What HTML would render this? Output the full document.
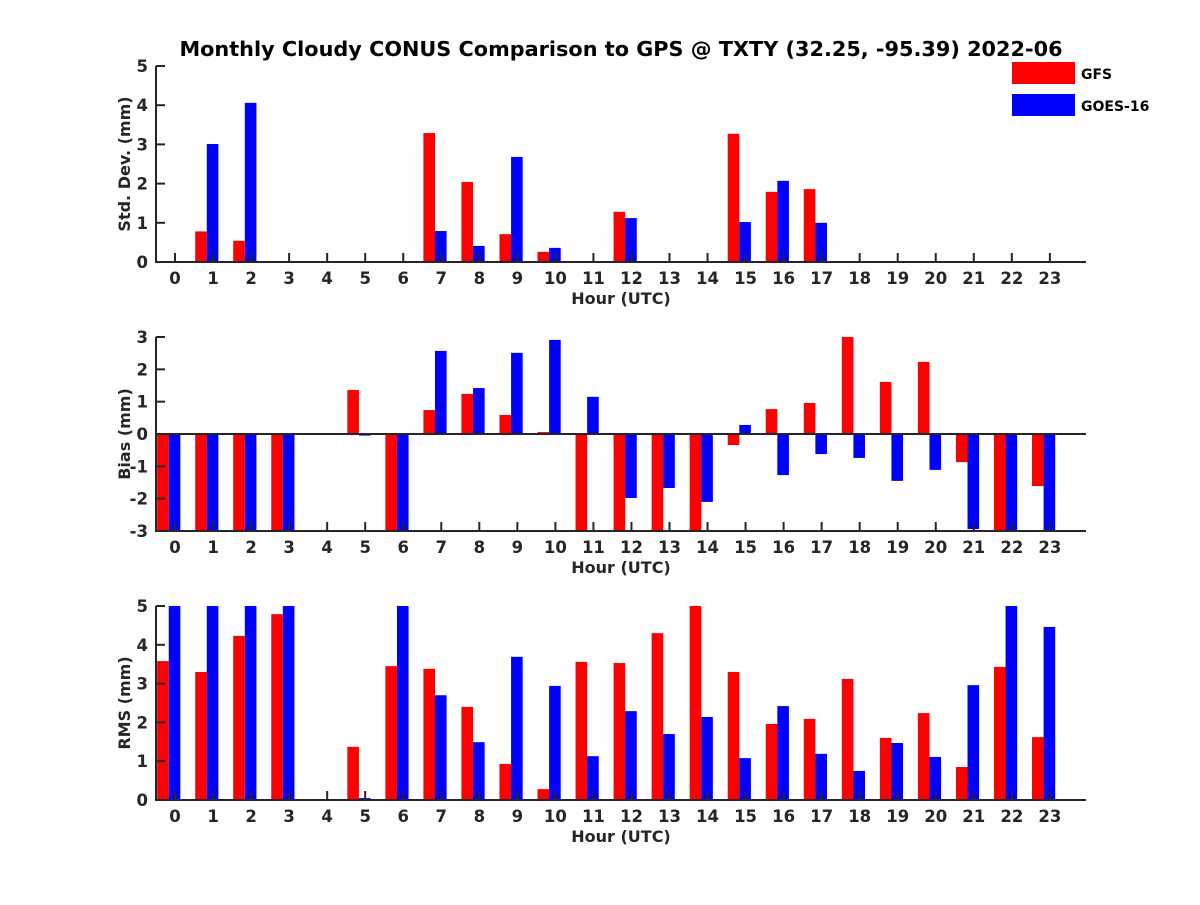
<!DOCTYPE html>
<html><head><meta charset="utf-8"><style>
body{margin:0;background:#fff;}
svg text{font-family:"DejaVu Sans","Liberation Sans",sans-serif;font-weight:bold;fill:#262626;}
</style></head><body>
<svg id="chart" width="1200" height="900" xmlns="http://www.w3.org/2000/svg">
<rect width="1200" height="900" fill="#fff"/>
<text x="621" y="56" text-anchor="middle" font-size="20.8" style="fill:#000">Monthly Cloudy CONUS Comparison to GPS @ TXTY (32.25, -95.39) 2022-06</text>
<g id="plots"></g>
<g>
<rect x="1012" y="62" width="63" height="22" fill="#ff0000"/>
<text x="1081" y="79" font-size="14" style="fill:#000">GFS</text>
<rect x="1012" y="94" width="63" height="22" fill="#0000ff"/>
<text x="1081" y="111" font-size="14" style="fill:#000">GOES-16</text>
</g>
</svg>
<script>
const hours = [0,1,2,3,4,5,6,7,8,9,10,11,12,13,14,15,16,17,18,19,20,21,22,23];
const stdGFS  = [null,0.78,0.54,null,null,null,null,3.29,2.04,0.71,0.26,null,1.28,null,null,3.27,1.79,1.86,null,null,null,null,null,null];
const stdGOES = [null,3.01,4.06,null,null,null,null,0.79,0.41,2.68,0.36,null,1.12,null,null,1.02,2.07,1.0,null,null,null,null,null,null];
const biasGFS  = [-3.5,-3.5,-3.5,-3.5,null,1.36,-3.5,0.74,1.24,0.59,0.06,-3.5,-3.5,-3.5,-3.5,-0.34,0.77,0.96,3.0,1.61,2.23,-0.87,-3.5,-1.61];
const biasGOES = [-3.5,-3.5,-3.5,-3.5,null,-0.05,-3.5,2.57,1.42,2.51,2.91,1.15,-1.98,-1.67,-2.1,0.28,-1.27,-0.62,-0.74,-1.45,-1.11,-2.94,-3.5,-3.5];
const rmsGFS  = [3.58,3.3,4.23,4.79,null,1.37,3.45,3.38,2.4,0.93,0.28,3.56,3.53,4.3,5.0,3.3,1.96,2.09,3.12,1.6,2.24,0.85,3.43,1.62];
const rmsGOES = [5.5,5.5,5.5,5.5,null,0.05,5.5,2.7,1.49,3.69,2.94,1.13,2.29,1.7,2.14,1.08,2.42,1.19,0.75,1.47,1.11,2.96,5.5,4.46];
const stdTicks = [0,1,2,3,4,5];
const biasTicks = [-3,-2,-1,0,1,2,3];
const rmsTicks = [0,1,2,3,4,5];

const NS="http://www.w3.org/2000/svg";
const root=document.getElementById('plots');
const X0=156,X1=1086,XMIN=-0.5,XMAX=23.95;
const xs=v=>X0+(v-XMIN)/(XMAX-XMIN)*(X1-X0);
function mk(tag,attrs,parent){const e=document.createElementNS(NS,tag);for(const k in attrs)e.setAttribute(k,attrs[k]);parent.appendChild(e);return e;}

function panel(key,top,bottom,ymin,ymax,ticks,red,blue,ylabel){
  const g=mk('g',{},root);
  
  
  const ys=v=>bottom-(Math.max(ymin,Math.min(ymax,v))-ymin)/(ymax-ymin)*(bottom-top);
  const base=ys(Math.max(ymin,0));
  const clip=mk('clipPath',{id:'c'+key},g);
  mk('rect',{x:X0,y:top,width:X1-X0,height:bottom-top},clip);
  const bars=mk('g',{'clip-path':'url(#c'+key+')'},g);
  hours.forEach((h,i)=>{
    [[red[i],-0.47,'#ff0000','gfs'],[blue[i],-0.165,'#0000ff','goes']].forEach(([v,off,col,nm])=>{
      if(v===null)return;
      const xa=xs(h+off),xb=xs(h+off+0.305);
      const y=ys(v);
      const r=mk('rect',{x:xa,y:Math.min(y,base),width:xb-xa,height:Math.max(Math.abs(y-base),0.8),fill:col},bars);
      
      
    });
  });
  const ax=mk('path',{d:`M${X0},${top}V${bottom}H${X1}`,stroke:'#262626','stroke-width':2,fill:'none'},g);
  
  
  if(ymin<0){
    const z=mk('line',{x1:X0,x2:X1,y1:ys(0),y2:ys(0),stroke:'#262626','stroke-width':2},g);
    
    
  }
  hours.forEach(h=>{
    const x=xs(h);
    mk('line',{x1:x,x2:x,y1:bottom,y2:bottom-9,stroke:'#262626','stroke-width':2},g);
    const t=mk('text',{x:x,y:bottom+22,'text-anchor':'middle','font-size':16.5},g);
    t.textContent=h;
    
    
  });
  ticks.forEach(v=>{
    const y=ys(v);
    mk('line',{x1:X0,x2:X0+9,y1:y,y2:y,stroke:'#262626','stroke-width':2},g);
    const t=mk('text',{x:X0-8,y:y+6,'text-anchor':'end','font-size':16.5},g);
    t.textContent=v;
    
    
  });
  const xl=mk('text',{x:(X0+X1)/2,y:bottom+42,'text-anchor':'middle','font-size':16},g);
  xl.textContent='Hour (UTC)';
  
  
  const yc=(top+bottom)/2;
  const yl=mk('text',{x:0,y:0,'text-anchor':'middle','font-size':16,transform:`translate(130,${yc}) rotate(-90)`},g);
  yl.textContent=ylabel;
  
  
}
panel('std',66,262,0,5,stdTicks,stdGFS,stdGOES,'Std. Dev. (mm)');
panel('bias',337,531,-3,3,biasTicks,biasGFS,biasGOES,'Bias (mm)');
panel('rms',606,800,0,5,rmsTicks,rmsGFS,rmsGOES,'RMS (mm)');
</script>
</body></html>
